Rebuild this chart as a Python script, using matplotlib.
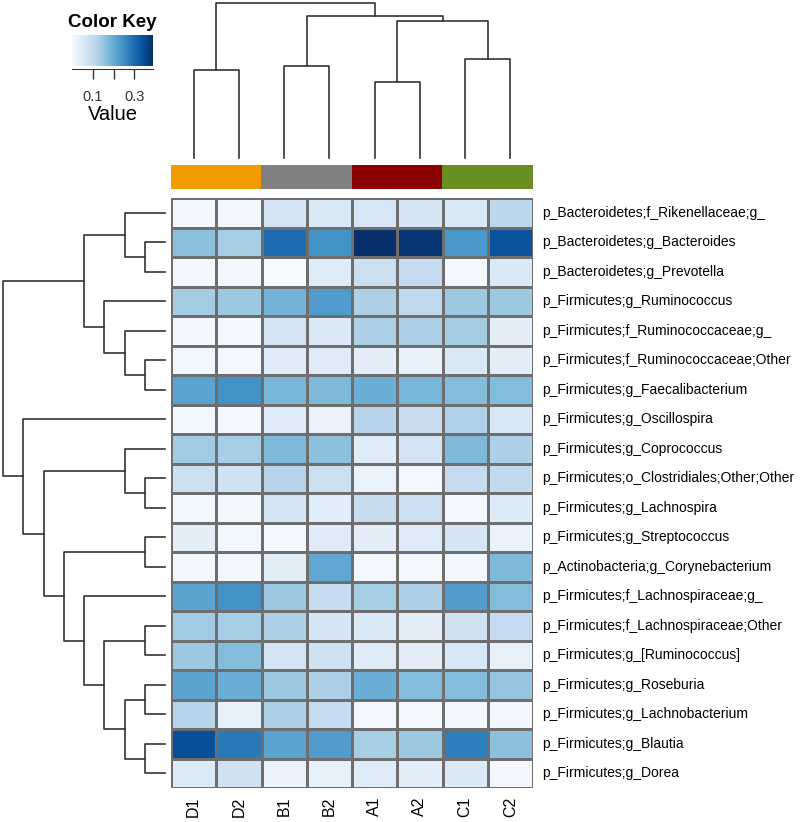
import numpy as np
import matplotlib
matplotlib.use('Agg')
import matplotlib.pyplot as plt

plt.rcParams['font.family'] = ['Liberation Sans', 'DejaVu Sans']

# samples (columns, in dendrogram order) and their group colours
samples = ['D1', 'D2', 'B1', 'B2', 'A1', 'A2', 'C1', 'C2']
groupColors = ['#f39c00', '#808080', '#8b0000', '#6b8e23']
groupOfSample = [0, 0, 1, 1, 2, 2, 3, 3]

# taxa (rows, in dendrogram order)
taxa = [
    'p_Bacteroidetes;f_Rikenellaceae;g_',
    'p_Bacteroidetes;g_Bacteroides',
    'p_Bacteroidetes;g_Prevotella',
    'p_Firmicutes;g_Ruminococcus',
    'p_Firmicutes;f_Ruminococcaceae;g_',
    'p_Firmicutes;f_Ruminococcaceae;Other',
    'p_Firmicutes;g_Faecalibacterium',
    'p_Firmicutes;g_Oscillospira',
    'p_Firmicutes;g_Coprococcus',
    'p_Firmicutes;o_Clostridiales;Other;Other',
    'p_Firmicutes;g_Lachnospira',
    'p_Firmicutes;g_Streptococcus',
    'p_Actinobacteria;g_Corynebacterium',
    'p_Firmicutes;f_Lachnospiraceae;g_',
    'p_Firmicutes;f_Lachnospiraceae;Other',
    'p_Firmicutes;g_[Ruminococcus]',
    'p_Firmicutes;g_Roseburia',
    'p_Firmicutes;g_Lachnobacterium',
    'p_Firmicutes;g_Blautia',
    'p_Firmicutes;g_Dorea',
]

# relative abundance, one row per taxon, columns as in samples
values = np.array([
    [0.012, 0.012, 0.070, 0.059, 0.062, 0.066, 0.059, 0.109],
    [0.164, 0.137, 0.300, 0.242, 0.390, 0.382, 0.234, 0.335],
    [0.012, 0.012, 0.004, 0.047, 0.086, 0.098, 0.008, 0.055],
    [0.140, 0.148, 0.187, 0.226, 0.129, 0.105, 0.148, 0.148],
    [0.012, 0.008, 0.066, 0.055, 0.129, 0.129, 0.140, 0.039],
    [0.016, 0.008, 0.047, 0.047, 0.039, 0.031, 0.059, 0.039],
    [0.215, 0.242, 0.183, 0.176, 0.195, 0.183, 0.172, 0.172],
    [0.016, 0.008, 0.047, 0.027, 0.117, 0.090, 0.125, 0.062],
    [0.144, 0.137, 0.176, 0.164, 0.047, 0.070, 0.176, 0.129],
    [0.086, 0.078, 0.117, 0.086, 0.027, 0.008, 0.098, 0.105],
    [0.016, 0.012, 0.066, 0.043, 0.094, 0.086, 0.008, 0.051],
    [0.039, 0.016, 0.008, 0.047, 0.039, 0.047, 0.066, 0.027],
    [0.012, 0.012, 0.039, 0.207, 0.008, 0.008, 0.012, 0.176],
    [0.215, 0.242, 0.148, 0.098, 0.137, 0.129, 0.226, 0.172],
    [0.144, 0.137, 0.129, 0.066, 0.059, 0.039, 0.078, 0.098],
    [0.148, 0.172, 0.070, 0.078, 0.047, 0.039, 0.062, 0.031],
    [0.215, 0.195, 0.148, 0.129, 0.195, 0.172, 0.172, 0.156],
    [0.117, 0.031, 0.129, 0.098, 0.008, 0.008, 0.012, 0.012],
    [0.343, 0.281, 0.215, 0.226, 0.137, 0.148, 0.273, 0.164],
    [0.051, 0.078, 0.027, 0.031, 0.047, 0.039, 0.055, 0.012],
])

# merges (left, right, height); leaves are 0..n-1, new nodes n, n+1, ...
colMerges = [(0, 1, 88), (2, 3, 92), (4, 5, 76), (6, 7, 99),
             (10, 11, 137), (9, 12, 142), (8, 13, 155)]
rowMerges = [(1, 2, 1), (0, 20, 2), (5, 6, 1), (4, 22, 2), (3, 23, 3),
             (21, 24, 4), (9, 10, 1), (8, 26, 2), (11, 12, 1), (14, 15, 1),
             (16, 17, 1), (18, 19, 1), (30, 31, 2), (29, 32, 3), (13, 33, 4),
             (28, 34, 5), (27, 35, 6), (7, 36, 7), (25, 37, 8)]

vMax = 0.39
cmap = plt.get_cmap('Blues')
lineCol = '#333333'

W, H = 800, 822


def box(x0, y0, x1, y1):
    return [x0 / W, 1 - y1 / H, (x1 - x0) / W, (y1 - y0) / H]


def drawDendrogram(ax, merges, nLeaves, vertical):
    pos = {i: i + 0.5 for i in range(nLeaves)}
    hgt = {i: 0 for i in range(nLeaves)}
    for k, (a, b, h) in enumerate(merges):
        node = nLeaves + k
        pos[node] = (pos[a] + pos[b]) / 2
        hgt[node] = h
        xs = [pos[a], pos[a], pos[b], pos[b]]
        ys = [hgt[a], h, h, hgt[b]]
        if vertical:
            ax.plot(xs, ys, color=lineCol, lw=1.2, clip_on=False)
        else:
            ax.plot(ys, xs, color=lineCol, lw=1.2, clip_on=False)
    ax.axis('off')


fig = plt.figure(figsize=(W / 100, H / 100), dpi=100)

# heatmap
axHeat = fig.add_axes(box(171, 198, 533, 788))
axHeat.pcolormesh(values, cmap=cmap, vmin=0, vmax=vMax,
                  edgecolors='#6e6e6e', linewidth=0.85)
axHeat.set_xlim(0, len(samples))
axHeat.set_ylim(len(taxa), 0)
axHeat.axis('off')
for i, name in enumerate(taxa):
    axHeat.text(len(samples) + 0.2, i + 0.5, name, fontsize=10,
                ha='left', va='center')
for j, name in enumerate(samples):
    axHeat.text(j + 0.5, len(taxa) + 0.3, name, fontsize=11.5, rotation=90,
                ha='center', va='top')

# column side colours
axSide = fig.add_axes(box(171, 165, 533, 189))
axSide.imshow([[matplotlib.colors.to_rgb(groupColors[g]) for g in groupOfSample]],
              aspect='auto', extent=[0, len(samples), 0, 1])
axSide.axis('off')

# top dendrogram
axTop = fig.add_axes(box(171, 3, 533, 158))
drawDendrogram(axTop, colMerges, len(samples), True)
axTop.set_xlim(0, len(samples))
axTop.set_ylim(0, colMerges[-1][2])

# left dendrogram
axLeft = fig.add_axes(box(3, 198, 165, 788))
drawDendrogram(axLeft, rowMerges, len(taxa), False)
axLeft.set_ylim(len(taxa), 0)
axLeft.set_xlim(rowMerges[-1][2], 0)

# colour key
axKey = fig.add_axes(box(72, 35, 153, 69))
axKey.imshow(np.linspace(0, vMax, 256)[None, :], cmap=cmap, vmin=0, vmax=vMax,
             aspect='auto', extent=[0, vMax, 0.1, 1])
axKey.set_ylim(0, 1)
axKey.set_yticks([])
axKey.set_xticks([0.1, 0.2, 0.3])
axKey.set_xticklabels(['0.1', '', '0.3'], fontsize=10.5, color='#333333')
axKey.tick_params(axis='x', length=7, width=1, direction='out', pad=8,
                  colors='#333333', labelcolor='#333333')
for side in ['top', 'left', 'right']:
    axKey.spines[side].set_visible(False)
axKey.spines['bottom'].set_color('#333333')
axKey.set_xlabel('Value', fontsize=14.5, labelpad=1)
axKey.set_title('Color Key', fontsize=13.5, fontweight='bold', pad=6)

fig.savefig('out.png', dpi=100)
